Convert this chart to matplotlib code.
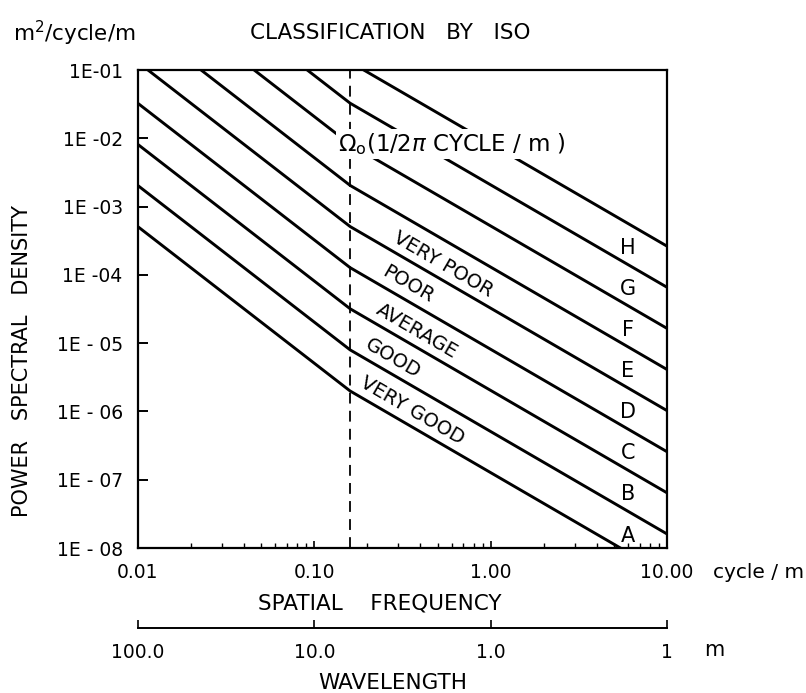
import numpy as np
import matplotlib
matplotlib.use("Agg")
import matplotlib.pyplot as plt
from matplotlib.ticker import FixedLocator, FixedFormatter, NullLocator, NullFormatter, LogLocator

# ISO road roughness class boundaries: PSD at the reference frequency, m^2/(cycle/m)
boundary_psd = [2e-6, 8e-6, 32e-6, 128e-6, 512e-6, 2048e-6, 8192e-6, 32768e-6, 131072e-6]
class_letters = ["A", "B", "C", "D", "E", "F", "G", "H"]
class_names = ["VERY GOOD", "GOOD", "AVERAGE", "POOR", "VERY POOR"]
class_name_freq = [0.36, 0.28, 0.38, 0.34, 0.54]

n0 = 1.0 / (2.0 * np.pi)       # reference spatial frequency, cycle/m
w_low = 2.0                   # slope below n0
w_high = 1.5                  # slope above n0

freq_ticks = [0.01, 0.1, 1.0, 10.0]
freq_labels = ["0.01", "0.10", "1.00", "10.00"]
psd_ticks = [1e-1, 1e-2, 1e-3, 1e-4, 1e-5, 1e-6, 1e-7, 1e-8]
psd_labels = ["1E-01", "1E -02", "1E -03", "1E -04", "1E - 05", "1E - 06", "1E - 07", "1E - 08"]
wave_ticks = [100.0, 10.0, 1.0, 0.1]
wave_labels = ["100.0", "10.0", "1.0", "1"]


def psd(n, g0):
    n = np.asarray(n, dtype=float)
    w = np.where(n <= n0, w_low, w_high)
    return g0 * (n / n0) ** (-w)


plt.rcParams["font.family"] = ["DejaVu Sans"]
fig = plt.figure(figsize=(8.06, 6.93), dpi=100)
ax = fig.add_axes([138 / 806, 1 - 548 / 693, (667 - 138) / 806, (548 - 70) / 693])
ax.set_xscale("log")
ax.set_yscale("log")
ax.set_xlim(0.01, 10.0)
ax.set_ylim(1e-8, 1e-1)

n = np.unique(np.concatenate([np.logspace(-2, 1, 400), [n0]]))
for g0 in boundary_psd:
    ax.plot(n, psd(n, g0), color="black", lw=2.1, solid_capstyle="butt", zorder=2)

ax.axvline(n0, color="black", lw=1.3, ls=(0, (6, 4)), zorder=2)

for sp in ax.spines.values():
    sp.set_linewidth(1.6)

ax.xaxis.set_major_locator(FixedLocator(freq_ticks))
ax.xaxis.set_major_formatter(FixedFormatter(freq_labels))
ax.xaxis.set_minor_locator(LogLocator(base=10, subs=np.arange(2, 10), numticks=20))
ax.xaxis.set_minor_formatter(NullFormatter())
ax.yaxis.set_major_locator(FixedLocator(psd_ticks))
ax.yaxis.set_major_formatter(FixedFormatter(psd_labels))
ax.yaxis.set_minor_locator(NullLocator())
ax.tick_params(axis="x", which="major", direction="in", length=5, width=1.2, labelsize=13.5, pad=11)
ax.tick_params(axis="x", which="minor", direction="in", length=3.5, width=1.0)
ax.tick_params(axis="y", which="major", direction="in", length=7, width=1.4, labelsize=13.5, pad=11)


def screen_angle(nx, g0):
    p1 = ax.transData.transform((nx, psd(nx, g0)))
    p2 = ax.transData.transform((nx * 1.5, psd(nx * 1.5, g0)))
    return np.degrees(np.arctan2(p2[1] - p1[1], p2[0] - p1[0]))


# class names along the centre of their bands
for i, (name, nx) in enumerate(zip(class_names, class_name_freq)):
    g_mid = np.sqrt(boundary_psd[i] * boundary_psd[i + 1])
    ax.text(nx, psd(nx, g_mid) * 0.88, name, rotation=screen_angle(nx, g_mid),
            rotation_mode="anchor", ha="center", va="center", fontsize=14, zorder=3)

# class letters near the right edge
for i, letter in enumerate(class_letters):
    g_mid = np.sqrt(boundary_psd[i] * boundary_psd[i + 1])
    ax.text(6.0, psd(6.0, g_mid) * 0.88, letter, ha="center", va="center", fontsize=15, zorder=3)

ax.text(n0 * 0.855, 8.3e-3, r"$\Omega_{\rm o}$(1/2$\pi$ CYCLE / m )", ha="left", va="center",
        fontsize=16.5, zorder=4,
        bbox=dict(facecolor="white", edgecolor="none", pad=1.5))

# wavelength scale below the frequency axis
sec = ax.secondary_xaxis(-0.167, functions=(lambda x: 1.0 / x, lambda x: 1.0 / x))
sec.xaxis.set_major_locator(FixedLocator(wave_ticks))
sec.xaxis.set_major_formatter(FixedFormatter(wave_labels))
sec.xaxis.set_minor_locator(NullLocator())
sec.tick_params(axis="x", which="major", direction="in", length=6, width=1.2, labelsize=13.5, pad=11)
sec.spines["bottom"].set_linewidth(1.4)

fig.text(390 / 806, 1 - 33 / 693, "CLASSIFICATION   BY   ISO", ha="center", va="center", fontsize=15.5)
fig.text(13 / 806, 1 - 33 / 693, r"m$^2$/cycle/m", ha="left", va="center", fontsize=15.5)
fig.text(22 / 806, 1 - 361 / 693, "POWER   SPECTRAL   DENSITY", rotation=90,
         ha="center", va="center", fontsize=15)
fig.text(380 / 806, 1 - 603 / 693, "SPATIAL    FREQUENCY", ha="center", va="center", fontsize=15.5)
fig.text(713 / 806, 1 - 573 / 693, "cycle / m", ha="left", va="center", fontsize=14.5)
fig.text(393 / 806, 1 - 683 / 693, "WAVELENGTH", ha="center", va="center", fontsize=15.5)
fig.text(704 / 806, 1 - 650 / 693, "m", ha="left", va="center", fontsize=15)

fig.savefig("out.png", dpi=100, facecolor="white")
